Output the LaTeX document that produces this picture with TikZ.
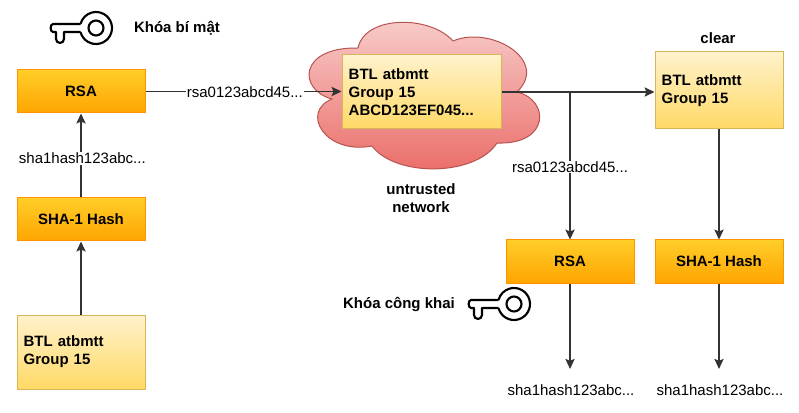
\documentclass[tikz,border=0pt]{standalone}
\usepackage{fontspec}
\setmainfont{Liberation Sans}
\usetikzlibrary{arrows.meta}
\begin{document}
\begin{tikzpicture}[x=0.75pt,y=-0.75pt,
	font=\fontsize{11.25pt}{13.5pt}\selectfont,
	link/.style={line width=0.8pt,draw=black!80,-{Stealth[length=7.5pt,width=7pt,inset=1.5pt]}},
	orangebox/.style={draw=orange!85!yellow,line width=0.75pt,top color=orangetop,bottom color=orangebot,minimum width=96pt,minimum height=32.25pt,inner sep=0pt,font=\fontsize{11.25pt}{13.5pt}\selectfont\bfseries},
	paperbox/.style={draw=paperline,line width=0.75pt,top color=papertop,bottom color=paperbot,align=left,inner xsep=5pt,inner ysep=0pt,font=\fontsize{11.25pt}{13.5pt}\selectfont\bfseries},
	edgetext/.style={fill=white,inner sep=0.5pt,font=\fontsize{11.25pt}{13.5pt}\selectfont},
	boldtext/.style={align=center,inner sep=0pt,font=\fontsize{11.25pt}{13.5pt}\selectfont\bfseries},
	hashtext/.style={inner xsep=0pt,inner ysep=11.5pt,font=\fontsize{11.25pt}{13.5pt}\selectfont},
	keyicon/.pic={
		\draw[line width=1.6pt,line join=round,fill=white] (-15.4,-4) -- (-43,-4) to[out=180,in=180] (-43,4) -- (-40,4) -- (-40,11) to[out=-90,in=180] (-36,15) to[out=0,in=-90] (-32,11) -- (-32,4) -- (-15.4,4);
		\draw[line width=1.6pt] (-15.45,4.14) arc[start angle=165,end angle=-165,radius=16];
		\draw[line width=1.6pt] (0,0) circle[radius=7.5];
	}]
\definecolor{orangetop}{HTML}{FFCD28}
\definecolor{orangebot}{HTML}{FFA500}
\definecolor{papertop}{HTML}{FFF2CC}
\definecolor{paperbot}{HTML}{FFD966}
\definecolor{paperline}{HTML}{D6B656}
\definecolor{cloudtop}{HTML}{F8CECC}
\definecolor{cloudbot}{HTML}{EA6B66}
\definecolor{cloudline}{HTML}{B85450}
\useasboundingbox (0,0) rectangle (799,413);
\path[draw=cloudline,line width=0.75pt,top color=cloudtop,bottom color=cloudbot]
	(332,99) .. controls (298,90) and (298,47) .. (358,48)
	.. controls (365,15) and (430,15) .. (453,41)
	.. controls (490,25) and (550,60) .. (517,92)
	.. controls (550,100) and (550,145) .. (497,143)
	.. controls (475,177) and (395,177) .. (372,146)
	.. controls (325,155) and (300,112) .. (332,99) -- cycle;
\node[orangebox] (rsal) at (81,91.5) {RSA};
\node[orangebox] (shal) at (81,219.5) {SHA-1 Hash};
\node[paperbox,text width=86pt,minimum height=55.5pt] (textl) at (81,352) {BTL atbmtt\\Group 15};
\node[paperbox,text width=109.25pt,minimum height=55.5pt] (cloudbox) at (421.5,92) {BTL atbmtt\\Group 15\\ABCD123EF045...};
\node[paperbox,text width=86pt,minimum height=57.75pt] (clear) at (719,90.5) {BTL atbmtt\\Group 15};
\node[orangebox] (rsar) at (570,261.5) {RSA};
\node[orangebox] (shar) at (719,261.5) {SHA-1 Hash};
\node[hashtext] (hashr) at (571,390) {sha1hash123abc...};
\node[hashtext] (hashc) at (720,390) {sha1hash123abc...};
\node[boldtext] (secret) at (177,28) {Khóa bí mật};
\node[boldtext] (public) at (399,304) {Khóa công khai};
\node[boldtext] (cleartext) at (718,38) {clear};
\node[boldtext] (untrusted) at (421,198) {untrusted\\network};
\coordinate (split) at (rsar.north |- cloudbox.east);
\draw[link] (textl) -- (shal);
\draw[link] (shal) -- node[edgetext,pos=0.464,xshift=1pt] {sha1hash123abc...} (rsal);
\draw[link] (rsal.east) -- node[edgetext,pos=0.507,yshift=-0.75pt] {rsa0123abcd45...} (rsal.east -| cloudbox.west);
\draw[link] (cloudbox.east) -- (cloudbox.east -| clear.west);
\draw[link] (split) -- node[edgetext,pos=0.51] {rsa0123abcd45...} (rsar);
\draw[link] (clear) -- (shar);
\draw[link] (rsar) -- (rsar |- hashr.north);
\draw[link] (shar) -- (shar |- hashc.north);
\foreach \k in {(96,28),(514,304)}
	\pic at \k {keyicon};
\end{tikzpicture}
\end{document}
